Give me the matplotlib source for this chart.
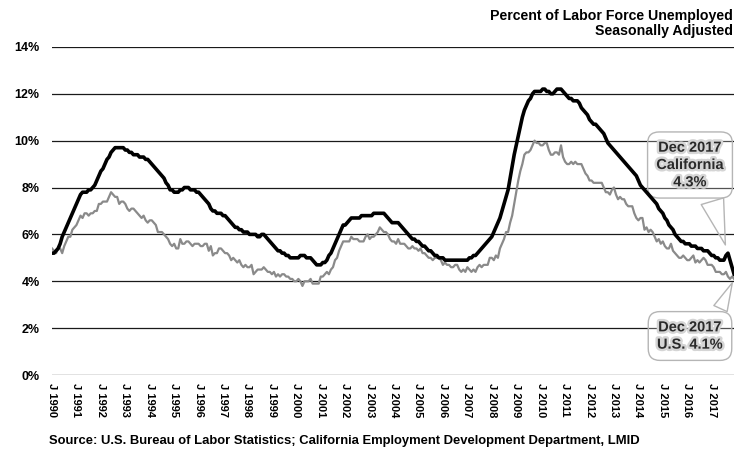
import numpy as np
import matplotlib
matplotlib.use("Agg")
import matplotlib.pyplot as plt
import matplotlib.patheffects as pe

# ---- data (monthly, seasonally adjusted, Jan 1990 - Dec 2017) ----
years = list(range(1990, 2018))

california = [
    5.2, 5.2, 5.3, 5.4, 5.6, 5.9, 6.1, 6.3, 6.5, 6.7, 6.9, 7.1,   # 1990
    7.3, 7.5, 7.7, 7.8, 7.8, 7.8, 7.9, 7.9, 8.0, 8.1, 8.3, 8.5,   # 1991
    8.7, 8.8, 9.0, 9.2, 9.3, 9.5, 9.6, 9.7, 9.7, 9.7, 9.7, 9.7,   # 1992
    9.6, 9.6, 9.5, 9.5, 9.4, 9.4, 9.4, 9.3, 9.3, 9.3, 9.2, 9.2,   # 1993
    9.1, 9.0, 8.9, 8.8, 8.7, 8.6, 8.5, 8.4, 8.2, 8.1, 7.9, 7.9,   # 1994
    7.8, 7.8, 7.8, 7.9, 7.9, 8.0, 8.0, 8.0, 7.9, 7.9, 7.9, 7.8,   # 1995
    7.8, 7.7, 7.6, 7.5, 7.4, 7.3, 7.1, 7.0, 7.0, 6.9, 6.9, 6.9,   # 1996
    6.8, 6.8, 6.7, 6.6, 6.5, 6.4, 6.3, 6.3, 6.2, 6.2, 6.1, 6.1,   # 1997
    6.1, 6.0, 6.0, 6.0, 6.0, 5.9, 5.9, 6.0, 6.0, 5.9, 5.8, 5.7,   # 1998
    5.6, 5.5, 5.4, 5.3, 5.3, 5.2, 5.2, 5.1, 5.1, 5.0, 5.0, 5.0,   # 1999
    5.0, 5.0, 5.1, 5.1, 5.1, 5.0, 5.0, 5.0, 4.9, 4.8, 4.7, 4.7,   # 2000
    4.7, 4.8, 4.8, 4.9, 5.1, 5.2, 5.4, 5.6, 5.8, 6.0, 6.2, 6.4,   # 2001
    6.4, 6.5, 6.6, 6.7, 6.7, 6.7, 6.7, 6.7, 6.8, 6.8, 6.8, 6.8,   # 2002
    6.8, 6.8, 6.9, 6.9, 6.9, 6.9, 6.9, 6.9, 6.8, 6.7, 6.6, 6.5,   # 2003
    6.5, 6.5, 6.5, 6.4, 6.3, 6.2, 6.1, 6.0, 5.9, 5.8, 5.8, 5.7,   # 2004
    5.7, 5.6, 5.5, 5.5, 5.4, 5.3, 5.3, 5.2, 5.1, 5.1, 5.0, 5.0,   # 2005
    5.0, 4.9, 4.9, 4.9, 4.9, 4.9, 4.9, 4.9, 4.9, 4.9, 4.9, 4.9,   # 2006
    4.9, 5.0, 5.0, 5.1, 5.1, 5.2, 5.3, 5.4, 5.5, 5.6, 5.7, 5.8,   # 2007
    5.9, 6.1, 6.3, 6.5, 6.7, 7.0, 7.3, 7.6, 7.9, 8.4, 8.9, 9.4,   # 2008
    9.8, 10.2, 10.6, 11.0, 11.3, 11.5, 11.7, 11.8, 12.0, 12.1, 12.1, 12.1,  # 2009
    12.1, 12.2, 12.2, 12.1, 12.1, 12.0, 12.0, 12.1, 12.2, 12.2, 12.2, 12.1,  # 2010
    12.0, 11.9, 11.8, 11.8, 11.7, 11.7, 11.7, 11.6, 11.4, 11.3, 11.2, 11.1,  # 2011
    10.9, 10.8, 10.7, 10.7, 10.6, 10.5, 10.4, 10.3, 10.1, 9.9, 9.8, 9.7,   # 2012
    9.6, 9.5, 9.4, 9.3, 9.2, 9.1, 9.0, 8.9, 8.8, 8.7, 8.6, 8.5,   # 2013
    8.3, 8.1, 8.0, 7.9, 7.8, 7.7, 7.6, 7.5, 7.4, 7.3, 7.1, 7.0,   # 2014
    6.9, 6.7, 6.6, 6.4, 6.3, 6.2, 6.0, 5.9, 5.8, 5.7, 5.7, 5.6,   # 2015
    5.6, 5.6, 5.5, 5.5, 5.5, 5.4, 5.4, 5.4, 5.3, 5.3, 5.3, 5.2,   # 2016
    5.1, 5.1, 5.0, 5.0, 4.9, 4.9, 4.9, 5.1, 5.2, 4.9, 4.6, 4.3,   # 2017
]

us = [
    5.4, 5.3, 5.2, 5.4, 5.4, 5.2, 5.5, 5.7, 5.9, 5.9, 6.2, 6.3,   # 1990
    6.4, 6.6, 6.8, 6.7, 6.9, 6.9, 6.8, 6.9, 6.9, 7.0, 7.0, 7.3,   # 1991
    7.3, 7.4, 7.4, 7.4, 7.6, 7.8, 7.7, 7.6, 7.6, 7.3, 7.4, 7.4,   # 1992
    7.3, 7.1, 7.0, 7.1, 7.1, 7.0, 6.9, 6.8, 6.7, 6.8, 6.6, 6.5,   # 1993
    6.6, 6.6, 6.5, 6.4, 6.1, 6.1, 6.1, 6.0, 5.9, 5.8, 5.6, 5.5,   # 1994
    5.6, 5.4, 5.4, 5.8, 5.6, 5.6, 5.7, 5.7, 5.6, 5.5, 5.6, 5.6,   # 1995
    5.6, 5.5, 5.5, 5.6, 5.6, 5.3, 5.5, 5.1, 5.2, 5.2, 5.4, 5.4,   # 1996
    5.3, 5.2, 5.2, 5.1, 4.9, 5.0, 4.9, 4.8, 4.9, 4.7, 4.6, 4.7,   # 1997
    4.6, 4.6, 4.7, 4.3, 4.4, 4.5, 4.5, 4.5, 4.6, 4.5, 4.4, 4.4,   # 1998
    4.3, 4.4, 4.2, 4.3, 4.2, 4.3, 4.3, 4.2, 4.2, 4.1, 4.1, 4.0,   # 1999
    4.0, 4.1, 4.0, 3.8, 4.0, 4.0, 4.0, 4.1, 3.9, 3.9, 3.9, 3.9,   # 2000
    4.2, 4.2, 4.3, 4.4, 4.3, 4.5, 4.6, 4.9, 5.0, 5.3, 5.5, 5.7,   # 2001
    5.7, 5.7, 5.7, 5.9, 5.8, 5.8, 5.8, 5.7, 5.7, 5.7, 5.9, 6.0,   # 2002
    5.8, 5.9, 5.9, 6.0, 6.1, 6.3, 6.2, 6.1, 6.1, 6.0, 5.8, 5.7,   # 2003
    5.7, 5.6, 5.8, 5.6, 5.6, 5.6, 5.5, 5.4, 5.4, 5.5, 5.4, 5.4,   # 2004
    5.3, 5.4, 5.2, 5.2, 5.1, 5.0, 5.0, 4.9, 5.0, 5.0, 5.0, 4.9,   # 2005
    4.7, 4.8, 4.7, 4.7, 4.6, 4.6, 4.7, 4.7, 4.5, 4.4, 4.5, 4.4,   # 2006
    4.6, 4.5, 4.4, 4.5, 4.4, 4.6, 4.7, 4.6, 4.7, 4.7, 4.7, 5.0,   # 2007
    5.0, 4.9, 5.1, 5.0, 5.4, 5.6, 5.8, 6.1, 6.1, 6.5, 6.8, 7.3,   # 2008
    7.8, 8.3, 8.7, 9.0, 9.4, 9.5, 9.5, 9.6, 9.8, 10.0, 9.9, 9.9,  # 2009
    9.8, 9.8, 9.9, 9.9, 9.6, 9.4, 9.4, 9.5, 9.5, 9.4, 9.8, 9.3,   # 2010
    9.1, 9.0, 9.0, 9.1, 9.0, 9.1, 9.0, 9.0, 9.0, 8.8, 8.6, 8.5,   # 2011
    8.3, 8.3, 8.2, 8.2, 8.2, 8.2, 8.2, 8.0, 7.8, 7.8, 7.7, 7.9,   # 2012
    8.0, 7.7, 7.5, 7.6, 7.5, 7.5, 7.3, 7.2, 7.2, 7.2, 6.9, 6.7,   # 2013
    6.6, 6.7, 6.7, 6.2, 6.3, 6.1, 6.2, 6.1, 5.9, 5.7, 5.8, 5.6,   # 2014
    5.7, 5.5, 5.4, 5.4, 5.6, 5.3, 5.2, 5.1, 5.0, 5.0, 5.1, 5.0,   # 2015
    4.9, 4.9, 5.0, 5.1, 4.8, 4.9, 4.8, 4.9, 5.0, 4.9, 4.7, 4.7,   # 2016
    4.7, 4.6, 4.4, 4.4, 4.4, 4.3, 4.3, 4.4, 4.2, 4.1, 4.2, 4.1,   # 2017
]

tick_labels = [f"J {y}" for y in years]

plt.rcParams["font.family"] = ["Liberation Sans", "DejaVu Sans"]
plt.rcParams["font.weight"] = "bold"

months = np.arange(len(california))

fig = plt.figure(figsize=(7.43, 4.51), dpi=100)
ax = fig.add_axes([0.070, 0.1685, 0.918, 0.7275])

# gridlines
for v in range(0, 15, 2):
    ax.axhline(v, color="#1a1a1a", linewidth=0.9, zorder=1)

ax.plot(months, us, color="#8a8a8a", linewidth=1.6, zorder=3)
ax.plot(months, california, color="black", linewidth=2.6, zorder=4)

ax.set_xlim(0, len(months) - 1)
ax.set_ylim(0, 14)
ax.set_yticks(range(0, 15, 2))
ax.set_yticklabels([f"{v}%" for v in range(0, 15, 2)], fontsize=9, fontweight="bold")
ax.set_xticks(months[::12])
ax.set_xticklabels(tick_labels, rotation=270, fontsize=8, fontweight="bold")
ax.tick_params(axis="y", length=0, pad=9)
ax.tick_params(axis="x", length=0, pad=6)
for s in ax.spines.values():
    s.set_visible(False)

# title block (top right)
fig.text(0.987, 0.948, "Percent of Labor Force Unemployed\nSeasonally Adjusted",
         ha="right", va="center", fontsize=10.2, fontweight="bold", linespacing=1.05)

# source
fig.text(0.066, 0.022, "Source: U.S. Bureau of Labor Statistics; California Employment Development Department, LMID",
         ha="left", va="center", fontsize=9.4, fontweight="bold")

# callouts
glow = [pe.withStroke(linewidth=3.5, foreground="#d5d5d5")]
box = dict(boxstyle="round,pad=0.6,rounding_size=0.8", fc=(1, 1, 1, 0.25), ec="#b5b5b5", lw=1.0)

ax.annotate(f"Dec 2017\nCalifornia\n{california[-1]}%",
            xy=(months[-1], california[-1]), xycoords="data",
            xytext=(690, 286), textcoords="figure pixels",
            ha="center", va="center", fontsize=10.5, fontweight="bold",
            linespacing=1.3, color="#2a2a2a", path_effects=glow, bbox=box, zorder=2,
            arrowprops=dict(arrowstyle="wedge,tail_width=1.6,shrink_factor=0.5",
                            fc=(1, 1, 1, 0.25), ec="#b5b5b5", lw=1.0,
                            relpos=(0.78, 0.0), shrinkB=22))

ax.annotate(f"Dec 2017\nU.S. {us[-1]}%",
            xy=(months[-1], us[-1]), xycoords="data",
            xytext=(690, 115), textcoords="figure pixels",
            ha="center", va="center", fontsize=10.5, fontweight="bold",
            linespacing=1.3, color="#2a2a2a", path_effects=glow, bbox=box, zorder=2,
            arrowprops=dict(arrowstyle="wedge,tail_width=1.0,shrink_factor=0.5",
                            fc=(1, 1, 1, 0.25), ec="#b5b5b5", lw=1.0,
                            relpos=(0.88, 1.0), shrinkB=3))

fig.savefig("out.png", dpi=100)
